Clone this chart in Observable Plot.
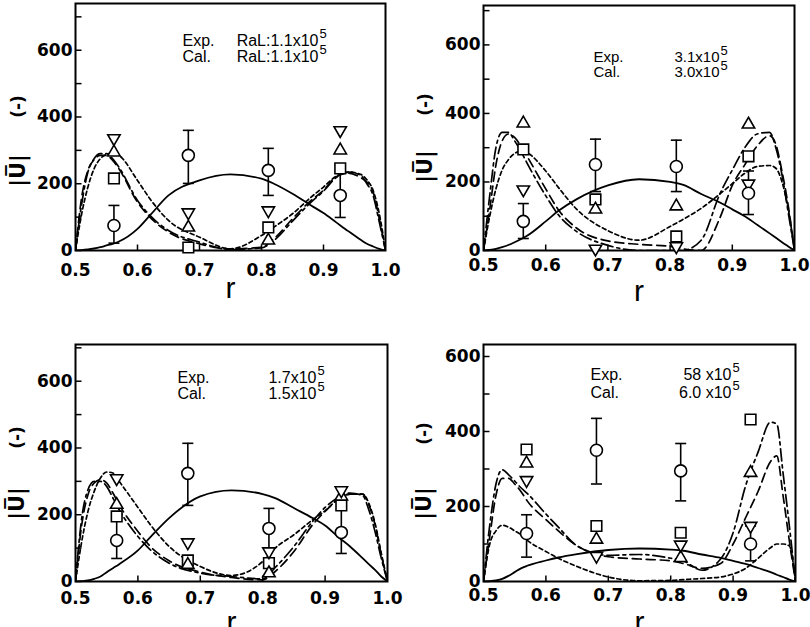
<!DOCTYPE html>
<html><head><meta charset="utf-8">
<script src="https://cdn.jsdelivr.net/npm/d3@7"></script>
<script src="https://cdn.jsdelivr.net/npm/@observablehq/plot@0.6"></script>
<style>
html,body{margin:0;padding:0;background:#fff;}
#wrap{position:relative;width:810px;height:627px;overflow:hidden;background:#fff;}
.panel{position:absolute;}
</style></head><body><div id="wrap"></div>
<script>
// shared radial grid for calculated curves
const rGrid = [0.5, 0.51, 0.52, 0.53, 0.54, 0.55, 0.56, 0.57, 0.6, 0.62, 0.65, 0.7, 0.75, 0.8, 0.82, 0.85, 0.88, 0.9, 0.92, 0.94, 0.96, 0.97, 0.98, 0.99, 1.0];
const xTickLabels = [0.5, 0.6, 0.7, 0.8, 0.9, 1.0];
const xTickMarks = [0.6, 0.7, 0.8, 0.9];
const yTickLabels = [0, 200, 400, 600];
const yTickMarks = [0, 100, 200, 300, 400, 500, 600, 700];

// Panel 1: Ra 1.1x10^5
const p1Solid   = [0,1,3,6,10,15,20,27,65,105,165,210,228,215,200,170,135,112,85,58,32,20,12,5,0];
const p1Dashed  = [0,160,240,272,285,285,270,245,145,100,55,20,5,10,35,95,150,180,220,232,218,205,175,95,0];
const p1DashDot = [0,140,235,275,290,290,275,250,150,105,60,25,3,8,30,88,145,178,218,235,225,200,165,85,0];
const p1Dotted  = [0,110,190,245,275,288,292,285,210,155,90,40,5,45,70,110,160,190,222,235,228,212,180,110,0];
const p1R    = [0.562, 0.682, 0.811, 0.927];
const p1Circ = [75, 285, 240, 165];
const p1Lo   = [22, 201, 165, 99];
const p1Hi   = [135, 360, 306, 240];
const p1Up   = [294, 69, 30, 300];
const p1Down = [336, 114, 120, 360];
const p1Sq   = [216, 9, 69, 246];

// Panel 2: Ra 3.1x10^5 / 3.0x10^5
const p2Solid   = [0,2,5,10,16,24,33,43,85,115,150,190,208,200,192,165,140,120,100,75,50,37,24,12,0];
const p2Dashed  = [0,120,250,320,340,330,305,275,180,120,65,28,18,12,5,0,95,190,250,305,335,310,230,130,0];
const p2DashDot = [0,160,300,345,345,320,290,255,160,105,55,15,0,0,0,30,165,235,300,340,345,300,220,110,0];
const p2Dotted  = [0,100,180,235,265,283,290,285,232,185,120,58,30,70,90,123,165,195,225,245,248,240,200,120,0];
const p2R    = [0.564, 0.68, 0.81, 0.926];
const p2Circ = [85, 251, 245, 167];
const p2Lo   = [35, 172, 172, 105];
const p2Hi   = [137, 325, 322, 232];
const p2Up   = [371, 120, 129, 368];
const p2Down = [178, 5, 12, 195];
const p2Sq   = [295, 149, 41, 275];

// Panel 3: Ra 1.7x10^5 / 1.5x10^5
const p3Solid   = [0,1,3,8,15,28,40,52,93,133,190,255,273,262,250,220,190,168,135,105,70,52,35,15,0];
const p3Dashed  = [0,170,260,295,305,295,265,230,150,105,62,28,12,5,30,90,170,210,245,262,262,230,170,80,0];
const p3DashDot = [0,190,275,300,300,285,250,215,135,95,55,25,15,8,42,105,180,222,250,265,258,215,150,70,0];
const p3Dotted  = [0,120,210,270,310,328,325,300,222,170,105,45,18,60,100,140,185,212,245,262,262,235,175,85,0];
const p3R    = [0.566, 0.68, 0.81, 0.926];
const p3Circ = [123, 324, 159, 147];
const p3Lo   = [69, 228, 40, 84];
const p3Hi   = [192, 414, 219, 215];
const p3Up   = [230, 50, 25, 255];
const p3Down = [309, 117, 90, 273];
const p3Sq   = [195, 63, 55, 228];

// Panel 4: Ra 5.8x10^5 / 6.0x10^5
const p4Solid   = [0,1,3,7,15,25,35,42,56,64,73,84,88,85,82,72,63,55,47,36,25,18,12,5,0];
const p4Dashed  = [0,120,230,275,275,260,240,215,165,135,95,66,60,55,48,35,48,100,170,240,320,335,230,110,0];
const p4DashDot = [0,150,260,298,285,268,250,235,180,145,95,70,72,62,55,30,60,130,255,345,425,420,290,150,0];
const p4Dotted  = [0,100,135,150,145,135,125,110,80,62,40,12,2,3,5,8,12,20,35,62,90,100,100,95,0];
const p4R    = [0.569, 0.681, 0.816, 0.928];
const p4Circ = [128, 350, 295, 100];
const p4Lo   = [65, 260, 215, 55];
const p4Hi   = [178, 435, 368, 148];
const p4Up   = [315, 112, 63, 290];
const p4Down = [270, 68, 98, 148];
const p4Sq   = [352, 148, 130, 432];

const expLabels = ["RaL:1.1x10", "3.1x10", "1.7x10", "58 x10"];
const calLabels = ["RaL:1.1x10", "3.0x10", "1.5x10", "6.0 x10"];
const expWord = "Exp.";
const calWord = "Cal.";
const yLabelBars = "|U\u0305|";
const yLabelUnit = "(-)";
const xLabel = "r";

const panels = [
  {curves:[p1Solid,p1Dashed,p1DashDot,p1Dotted], r:p1R, circ:p1Circ, lo:p1Lo, hi:p1Hi, up:p1Up, dn:p1Down, sq:p1Sq},
  {curves:[p2Solid,p2Dashed,p2DashDot,p2Dotted], r:p2R, circ:p2Circ, lo:p2Lo, hi:p2Hi, up:p2Up, dn:p2Down, sq:p2Sq},
  {curves:[p3Solid,p3Dashed,p3DashDot,p3Dotted], r:p3R, circ:p3Circ, lo:p3Lo, hi:p3Hi, up:p3Up, dn:p3Down, sq:p3Sq},
  {curves:[p4Solid,p4Dashed,p4DashDot,p4Dotted], r:p4R, circ:p4Circ, lo:p4Lo, hi:p4Hi, up:p4Up, dn:p4Down, sq:p4Sq},
];

// layout (pixels, page coordinates)
const layouts = [
 {left:0, top:0, w:405, h:312, ml:75, mr:20, mt:3, mb:62, ymax:740, xpad:13, expX:182, numEnd:318, expY:40, calY:56, ylx:18, ylMinus:106, ylU:170, rY:297, fs:16},
 {left:405, top:0, w:405, h:312, ml:78, mr:16, mt:5, mb:62, ymax:715, xpad:8, expX:593, numEnd:719, expY:57, calY:72, ylx:425, ylMinus:104, ylU:166, rY:300, fs:15},
 {left:0, top:314, w:405, h:313, ml:75, mr:18, mt:30, mb:46, ymax:710, xpad:10, expX:177, numEnd:316, expY:377, calY:393, ylx:17, ylMinus:437, ylU:503, rY:631, fs:16},
 {left:405, top:314, w:405, h:313, ml:78, mr:15, mt:30, mb:46, ymax:632, xpad:7, expX:590, numEnd:731, expY:374, calY:392, ylx:424, ylMinus:433, ylU:503, rY:631, fs:16},
];

const dashes = [null, "9,5", "12,4,3,4", "4,3"];
const capSym = {draw(ctx){ctx.moveTo(-5.5,0);ctx.lineTo(5.5,0);}};
const xTickSym = {draw(ctx){ctx.moveTo(0,0);ctx.lineTo(0,-6);}};
const yTickSym = {draw(ctx){ctx.moveTo(0,0);ctx.lineTo(6,0);}};

const wrap = document.getElementById("wrap");
panels.forEach((p, k) => {
  const L = layouts[k];
  const fx = ax => ax - L.left - L.ml;
  const fy = ay => ay - L.top - L.mt;
  const exp = p.r.map((r,i) => ({r, c:p.circ[i], lo:p.lo[i], hi:p.hi[i], up:p.up[i], dn:p.dn[i], sq:p.sq[i]}));
  const annoFont = {fontFamily:"Liberation Sans", fontWeight:"normal", fontSize:L.fs, fill:"black", lineAnchor:"middle"};
  const marks = [
    Plot.frame({stroke:"black", strokeWidth:2}),
    ...p.curves.map((vals, j) => Plot.line(rGrid.map((r,i)=>({r, v: vals[i]})), {
      x:"r", y:"v", curve:"monotone-x", stroke:"black", strokeWidth: j===0 ? 1.8 : 1.7,
      strokeDasharray: dashes[j], clip:true})),
    Plot.ruleX(exp, {x:"r", y1:"lo", y2:"hi", stroke:"black", strokeWidth:1.6}),
    Plot.dot(exp, {x:"r", y:"lo", symbol:capSym, stroke:"black", fill:"none", strokeWidth:1.6}),
    Plot.dot(exp, {x:"r", y:"hi", symbol:capSym, stroke:"black", fill:"none", strokeWidth:1.6}),
    Plot.dot(exp, {x:"r", y:"sq", symbol:"square", r:6, stroke:"black", fill:"white", strokeWidth:1.6}),
    Plot.dot(exp, {x:"r", y:"up", symbol:"triangle", r:4.6, stroke:"black", fill:"white", strokeWidth:1.6}),
    Plot.dot(exp, {x:"r", y:"dn", symbol:"triangle", rotate:180, r:4.6, stroke:"black", fill:"white", strokeWidth:1.6}),
    Plot.dot(exp, {x:"r", y:"c", symbol:"circle", r:6, stroke:"black", fill:"white", strokeWidth:1.6}),
    Plot.dot(xTickMarks, {x:d=>d, frameAnchor:"bottom", symbol:xTickSym, stroke:"black", fill:"none", strokeWidth:1.5}),
    Plot.dot(yTickMarks.filter(v => v <= L.ymax), {y:d=>d, frameAnchor:"left", symbol:yTickSym, stroke:"black", fill:"none", strokeWidth:1.5}),
    Plot.axisX({ticks:xTickLabels, tickFormat:d3.format(".1f"), tickSize:0, tickPadding:L.xpad, label:null}),
    Plot.axisY({ticks:yTickLabels, tickFormat:d3.format("d"), tickSize:0, tickPadding:3, label:null}),
    Plot.text([expWord], {frameAnchor:"top-left", dx:fx(L.expX), dy:fy(L.expY), text:d=>d, textAnchor:"start", ...annoFont}),
    Plot.text([calWord], {frameAnchor:"top-left", dx:fx(L.expX), dy:fy(L.calY), text:d=>d, textAnchor:"start", ...annoFont}),
    Plot.text([expLabels[k]], {frameAnchor:"top-left", dx:fx(L.numEnd), dy:fy(L.expY), text:d=>d, textAnchor:"end", ...annoFont}),
    Plot.text([calLabels[k]], {frameAnchor:"top-left", dx:fx(L.numEnd), dy:fy(L.calY), text:d=>d, textAnchor:"end", ...annoFont}),
    Plot.text(["5"], {frameAnchor:"top-left", dx:fx(L.numEnd+1), dy:fy(L.expY-7), text:d=>d, textAnchor:"start", ...annoFont, fontSize:13}),
    Plot.text(["5"], {frameAnchor:"top-left", dx:fx(L.numEnd+1), dy:fy(L.calY-7), text:d=>d, textAnchor:"start", ...annoFont, fontSize:13}),
    Plot.text([yLabelUnit], {frameAnchor:"top-left", dx:fx(L.ylx), dy:fy(L.ylMinus), text:d=>d, rotate:-90, textAnchor:"middle", lineAnchor:"middle", fontSize:17, fontWeight:"bold"}),
    Plot.text([yLabelBars], {frameAnchor:"top-left", dx:fx(L.ylx), dy:fy(L.ylU), text:d=>d, rotate:-90, textAnchor:"middle", lineAnchor:"middle", fontSize:21, fontWeight:"bold"}),
    Plot.text([xLabel], {frameAnchor:"bottom", dy: L.rY - (L.top + L.h - L.mb), text:d=>d, textAnchor:"middle", lineAnchor:"bottom", fontSize:30, fontWeight:"normal", fontFamily:"Liberation Sans"}),
  ];
  const svg = Plot.plot({
    width:L.w, height:L.h, marginLeft:L.ml, marginRight:L.mr, marginTop:L.mt, marginBottom:L.mb,
    x:{domain:[0.5,1.0]}, y:{domain:[0,L.ymax]},
    style:{fontFamily:"DejaVu Sans", fontWeight:"bold", fontSize:"17px", color:"black", background:"transparent", overflow:"visible"},
    marks
  });
  const div = document.createElement("div");
  div.className = "panel";
  div.style.left = L.left + "px";
  div.style.top = L.top + "px";
  div.appendChild(svg);
  wrap.appendChild(div);
});
</script>
</body></html>
